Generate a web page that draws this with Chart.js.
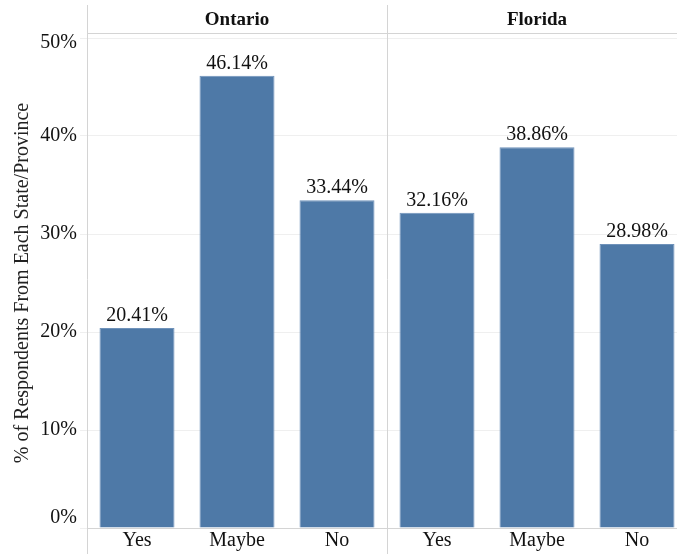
<!DOCTYPE html>
<html>
<head>
<meta charset="utf-8">
<script src="https://cdn.jsdelivr.net/npm/chart.js@4"></script>
<style>
    html, body { margin: 0; padding: 0; background: #fff; overflow: hidden; }
    #wrap { width: 687px; height: 554px; }
</style>
</head>
<body>
<div id="wrap"><canvas id="barChart"></canvas></div>
<script>
// Data
const panels = ['Ontario', 'Florida'];
const answers = ['Yes', 'Maybe', 'No'];
const ontarioValues = [20.41, 46.14, 33.44];
const floridaValues = [32.16, 38.86, 28.98];
const yTicks = [0, 10, 20, 30, 40, 50];

const serif = '"Liberation Serif", "Times New Roman", serif';
const lineColor = '#d4d4d4';

// Panel frames, headers, y tick labels and value labels
const panelPlugin = {
    id: 'panels',
    afterDraw(chart) {
        const ctx = chart.ctx;
        const area = chart.chartArea;
        const x = chart.scales.x;
        const y = chart.scales.y;
        const meta = chart.getDatasetMeta(0);
        ctx.save();

        // header separator and panel dividers
        ctx.strokeStyle = lineColor;
        ctx.lineWidth = 1;
        ctx.beginPath();
        ctx.moveTo(area.left, 33.5);
        ctx.lineTo(area.right, 33.5);
        let edges = [area.left];
        for (let p = 1; p < panels.length; p++) {
            edges.push((x.getPixelForValue(p * 3 - 1) + x.getPixelForValue(p * 3)) / 2);
        }
        edges.forEach(e => {
            ctx.moveTo(Math.round(e) + 0.5, 5);
            ctx.lineTo(Math.round(e) + 0.5, chart.height);
        });
        ctx.stroke();

        ctx.fillStyle = '#111';

        // y tick labels, kept inside the pane like the original
        ctx.font = '20px ' + serif;
        ctx.textAlign = 'right';
        ctx.textBaseline = 'middle';
        yTicks.forEach(v => {
            let py = y.getPixelForValue(v);
            py = Math.min(Math.max(py, area.top + 5), area.bottom - 10);
            ctx.fillText(v + '%', area.left - 10, py);
        });

        // panel titles
        ctx.font = 'bold 19px ' + serif;
        ctx.textAlign = 'center';
        panels.forEach((name, p) => {
            const c = (x.getPixelForValue(p * 3) + x.getPixelForValue(p * 3 + 2)) / 2;
            ctx.fillText(name, c, 20);
        });

        // value labels above bars
        ctx.font = '20px ' + serif;
        ctx.textBaseline = 'alphabetic';
        meta.data.forEach((bar, i) => {
            const v = chart.data.datasets[0].data[i];
            ctx.fillText(v.toFixed(2) + '%', bar.x, bar.y - 7);
        });
        ctx.restore();
    }
};

let ctxBar = document.getElementById('barChart').getContext('2d');
let barChart = new Chart(ctxBar, {
    type: 'bar',
    data: {
        labels: answers.concat(answers),
        datasets: [{
            data: ontarioValues.concat(floridaValues),
            backgroundColor: '#4e79a7',
            borderColor: '#6f92ba',
            borderWidth: 1,
            barPercentage: 0.75,
            categoryPercentage: 1.0,
        }]
    },
    options: {
        responsive: true,
        maintainAspectRatio: false,
        animation: false,
        layout: {
            padding: { top: 38, right: 0, bottom: 0, left: 0 }
        },
        scales: {
            x: {
                grid: { display: false, drawTicks: false },
                border: { display: true, color: lineColor },
                ticks: {
                    color: '#111',
                    padding: 3,
                    font: { size: 20, family: serif, lineHeight: 1 },
                },
                afterFit(scale) { scale.height = 26; }
            },
            y: {
                min: 0,
                max: 50,
                afterBuildTicks(scale) {
                    scale.ticks = yTicks.map(v => ({ value: v }));
                },
                grid: {
                    color: '#efefef',
                    tickLength: 7,
                },
                border: { display: false },
                ticks: { display: false },
                title: {
                    display: true,
                    text: '% of Respondents From Each State/Province',
                    color: '#222',
                    font: { size: 20, family: serif },
                    padding: { top: 11, bottom: 0 }
                },
                afterFit(scale) { scale.width = 87; }
            }
        },
        plugins: {
            legend: { display: false },
            tooltip: { enabled: false }
        }
    },
    plugins: [panelPlugin]
});
</script>
</body>
</html>
